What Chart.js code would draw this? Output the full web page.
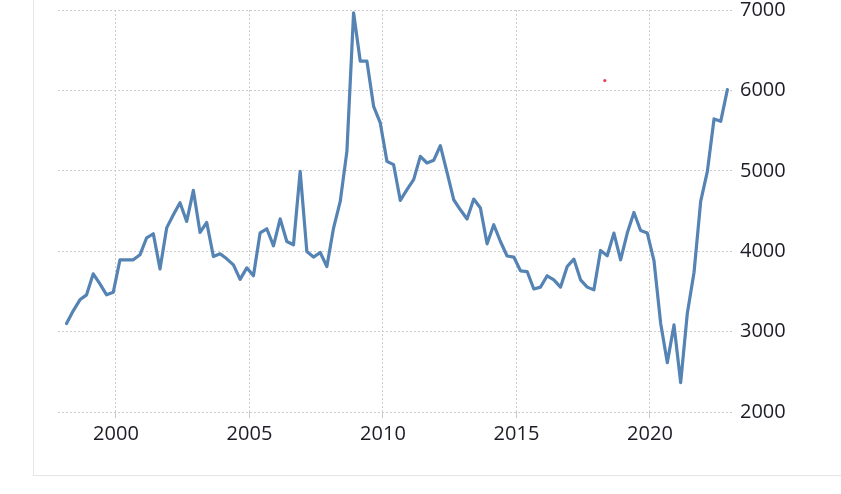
<!DOCTYPE html>
<html>
<head>
<meta charset="utf-8">
<script src="https://cdn.jsdelivr.net/npm/chart.js@4"></script>
<style>
  html, body { margin: 0; padding: 0; background: #fff; overflow: hidden; }
  #wrap { position: relative; width: 841px; height: 494px; }
  #frame { position: absolute; left: 33px; top: -2px; width: 900px; height: 478px; border: 1px solid #e6e6e6; box-sizing: border-box; }
  canvas { position: absolute; left: 0; top: 0; }
</style>
</head>
<body>
<div id="wrap">
  <div id="frame"></div>
  <canvas id="c" width="841" height="494"></canvas>
</div>
<script>
// Quarterly series, first quarter 1998 Q1 through 2022 Q4
const startYear = 1998;
const values = [
  3100, 3258, 3395, 3457, 3719, 3594, 3457, 3490,
  3893, 3893, 3893, 3955, 4167, 4217, 3780, 4290,
  4453, 4603, 4370, 4756, 4233, 4357, 3934, 3968,
  3905, 3830, 3650, 3793, 3694, 4229, 4279, 4067,
  4403, 4121, 4080, 4993, 3996, 3927, 3984, 3810,
  4288, 4619, 5242, 6965, 6363, 6363, 5802, 5595,
  5117, 5076, 4631, 4765, 4890, 5180, 5097, 5130,
  5313, 4980, 4640, 4515, 4400, 4649, 4537, 4092,
  4329, 4121, 3940, 3927, 3756, 3747, 3530, 3553,
  3694, 3644, 3553, 3810, 3902, 3644, 3553, 3519,
  4009, 3943, 4225, 3893, 4225, 4482, 4258, 4225,
  3884, 3105, 2614, 3083, 2365, 3229, 3735, 4619,
  4993, 5645, 5615, 6010
];
const quarters = values.map((_, i) => (startYear + Math.floor(i / 4)) + 'Q' + (i % 4 + 1));
const xTickLabels = [2000, 2005, 2010, 2015, 2020];
const yTickLabels = [2000, 3000, 4000, 5000, 6000, 7000];
// stray red marker seen in the picture
const markerX = [2018.31];
const markerY = [6122];

function quarterToYear(q) {
  const y = parseInt(q.slice(0, 4), 10);
  const n = parseInt(q.slice(5), 10);
  return y + (n - 1) * 0.25 + 0.15;
}

const lineData = quarters.map((q, i) => ({ x: quarterToYear(q), y: values[i] }));
const markerData = markerX.map((x, i) => ({ x: x, y: markerY[i] }));

const gridColor = '#cdcdcd';
const tickFont = { family: '"Open Sans", "Noto Sans", sans-serif', size: 20 };
const tickColor = '#1c1c26';

new Chart(document.getElementById('c'), {
  type: 'line',
  data: {
    datasets: [
      {
        data: lineData,
        borderColor: '#5483b4',
        borderWidth: 3.2,
        pointRadius: 0,
        tension: 0,
        borderJoinStyle: 'round',
        borderCapStyle: 'round',
        fill: false
      },
      {
        type: 'scatter',
        data: markerData,
        pointRadius: 1.6,
        pointBackgroundColor: '#e0475a',
        pointBorderWidth: 0,
        showLine: false
      }
    ]
  },
  options: {
    responsive: false,
    animation: false,
    devicePixelRatio: 1,
    layout: { padding: { left: 58, top: 10, right: 0, bottom: 0 } },
    plugins: { legend: { display: false }, tooltip: { enabled: false } },
    scales: {
      x: {
        type: 'linear',
        min: 1997.83,
        max: 2023.11,
        afterBuildTicks: (s) => { s.ticks = xTickLabels.map(v => ({ value: v })); },
        afterFit: (s) => { s.height = 82; s.paddingLeft = 0; s.paddingRight = 0; },
        grid: { color: gridColor, lineWidth: 1, tickLength: 6, drawTicks: true, tickColor: '#c8c8c8' },
        border: { display: false, dash: [2, 2] },
        ticks: { font: tickFont, color: tickColor, padding: 4, maxRotation: 0, callback: (v) => String(v) }
      },
      y: {
        position: 'right',
        min: 2000,
        max: 7000,
        afterBuildTicks: (s) => { s.ticks = yTickLabels.map(v => ({ value: v })); },
        afterFit: (s) => { s.width = 108; s.paddingTop = 0; s.paddingBottom = 0; },
        grid: { color: gridColor, lineWidth: 1, drawTicks: false },
        border: { display: false, dash: [2, 2] },
        ticks: { font: tickFont, color: tickColor, padding: 7, callback: (v) => String(v) }
      }
    }
  }
});
</script>
</body>
</html>
